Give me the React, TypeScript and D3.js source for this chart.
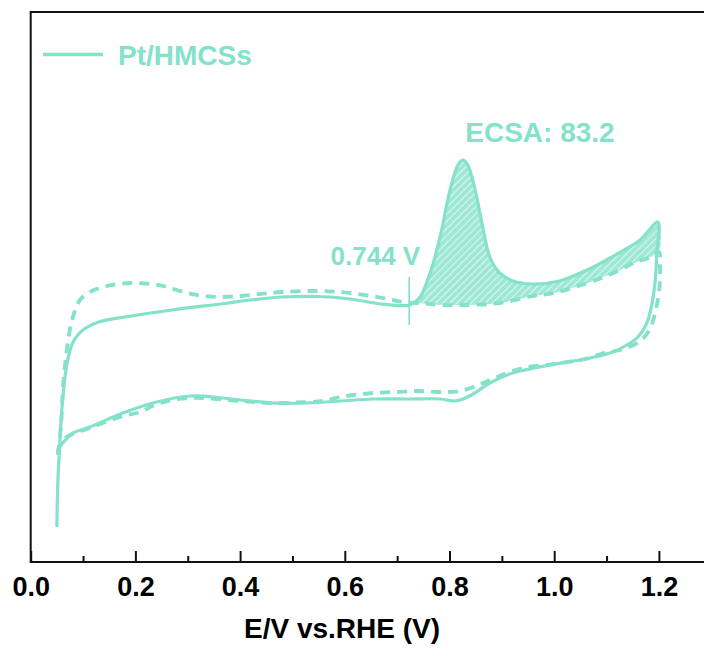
import React, { useEffect, useRef } from "react";
import * as d3 from "d3";

// potential (V vs RHE) and current (arb. units)
const solidAnodicE = [0.05, 0.052, 0.055, 0.058, 0.062, 0.066, 0.072, 0.08, 0.09, 0.105, 0.13, 0.18, 0.27, 0.37, 0.42, 0.48, 0.55, 0.61, 0.67, 0.72, 0.73, 0.744, 0.763, 0.782, 0.801, 0.816, 0.826, 0.835, 0.849, 0.862, 0.877, 0.896, 0.921, 0.96, 1.01, 1.063, 1.12, 1.164, 1.198];
const solidAnodicJ = [3.5, 8.2, 11.2, 14.2, 16.7, 18.7, 20.5, 21.9, 22.7, 23.4, 24.0, 24.5, 25.2, 25.85, 26.2, 26.5, 26.55, 26.3, 25.8, 25.65, 25.85, 26.5, 28.9, 32.5, 37.2, 39.7, 40.2, 39.7, 37.2, 33.9, 30.5, 28.9, 28.1, 27.8, 28.1, 29.2, 30.8, 32.2, 34.0];

const solidCathodicE = [1.196, 1.193, 1.187, 1.177, 1.16, 1.139, 1.112, 1.068, 0.998, 0.935, 0.91, 0.877, 0.845, 0.826, 0.81, 0.782, 0.719, 0.654, 0.591, 0.528, 0.463, 0.4, 0.367, 0.304, 0.241, 0.176, 0.113, 0.081, 0.066, 0.056, 0.052];
const solidCathodicJ = [30.9, 28.2, 25.9, 23.9, 22.5, 21.7, 21.0, 20.4, 19.75, 19.1, 18.7, 17.9, 16.8, 16.3, 16.1, 16.3, 16.3, 16.3, 16.1, 15.9, 15.9, 16.2, 16.4, 16.6, 16.0, 14.9, 13.5, 12.9, 12.2, 11.5, 10.9];

const dashAnodicE = [0.052, 0.058, 0.062, 0.069, 0.079, 0.094, 0.113, 0.146, 0.19, 0.228, 0.253, 0.285, 0.318, 0.356, 0.4, 0.438, 0.482, 0.547, 0.61, 0.673, 0.711, 0.75, 0.787, 0.833, 0.896, 0.96, 1.0, 1.04, 1.09, 1.126, 1.152, 1.179, 1.2];
const dashAnodicJ = [10.7, 13.7, 17.7, 21.2, 24.2, 26.2, 27.0, 27.6, 27.9, 27.8, 27.6, 27.1, 26.7, 26.5, 26.6, 26.8, 27.0, 27.1, 26.9, 26.4, 26.0, 25.85, 25.7, 25.7, 25.9, 26.6, 26.9, 27.5, 28.4, 29.2, 29.9, 30.4, 31.0];

const dashCathodicE = [1.202, 1.201, 1.194, 1.182, 1.162, 1.126, 1.094, 1.068, 1.0, 0.94, 0.89, 0.86, 0.82, 0.78, 0.738, 0.7, 0.654, 0.616, 0.591, 0.558, 0.528, 0.46, 0.4, 0.3, 0.241, 0.209, 0.176, 0.113, 0.069, 0.054, 0.051];
const dashCathodicJ = [29.7, 27.4, 25.2, 23.2, 22.0, 21.2, 20.9, 20.4, 19.8, 19.4, 18.5, 17.8, 17.1, 17.0, 17.1, 17.0, 16.9, 16.7, 16.5, 16.1, 16.0, 15.9, 16.1, 16.4, 15.8, 15.0, 14.6, 13.4, 12.5, 11.5, 10.6];

const markerE = 0.723;
const markerJ = [23.7, 28.5];

const xMajorTicks = [0, 0.2, 0.4, 0.6, 0.8, 1.0, 1.2];
const xMinorTicks = [0.1, 0.3, 0.5, 0.7, 0.9, 1.1];

const legendLabel = "Pt/HMCSs";
const areaLabel = "ECSA: 83.2";
const markerLabel = "0.744 V";
const xTitle = "E/V vs.RHE (V)";

const mint = "#84e1ca";
const font = "'Liberation Sans', Arial, sans-serif";

export default function App() {
    const svgRef = useRef<SVGSVGElement | null>(null);

    useEffect(() => {
        const width = 704;
        const height = 656;
        const svg = d3.select(svgRef.current);
        svg.selectAll("*").remove();

        const margin = { top: 12, left: 30.7, bottom: 562 };

        const x = d3.scaleLinear().domain([0, 1.3]).range([margin.left, margin.left + 1.3 * 523.5]);
        const y = d3.scaleLinear().domain([0, 55]).range([margin.bottom, margin.top]);

        const zip = (es: number[], js: number[]) => es.map((e, i) => [e, js[i]] as [number, number]);
        const solid = zip(solidAnodicE, solidAnodicJ).concat(zip(solidCathodicE, solidCathodicJ));
        const dashed = zip(dashAnodicE, dashAnodicJ).concat(zip(dashCathodicE, dashCathodicJ));

        const lineGen = d3.line<[number, number]>()
            .x((d) => x(d[0]))
            .y((d) => y(d[1]))
            .curve(d3.curveCatmullRom.alpha(0.5));

        // === hatch pattern + clip for the ECSA area ===
        const defs = svg.append("defs");
        const pattern = defs.append("pattern")
            .attr("id", "hatch")
            .attr("patternUnits", "userSpaceOnUse")
            .attr("width", 5)
            .attr("height", 5)
            .attr("patternTransform", "rotate(45)");
        pattern.append("rect").attr("width", 5).attr("height", 5).attr("fill", mint).attr("fill-opacity", 0.78);
        pattern.append("line")
            .attr("x1", 2.5).attr("y1", 0).attr("x2", 2.5).attr("y2", 5)
            .attr("stroke", "#ffffff").attr("stroke-width", 0.9).attr("stroke-opacity", 0.7);

        defs.append("clipPath").attr("id", "areaClip")
            .append("rect")
            .attr("x", x(markerE))
            .attr("y", 0)
            .attr("width", x(1.25) - x(markerE))
            .attr("height", height);

        const upper = zip(solidAnodicE, solidAnodicJ).filter((d) => d[0] >= 0.67);
        const lower = zip(dashAnodicE, dashAnodicJ).filter((d) => d[0] >= 0.67).reverse();
        svg.append("path")
            .attr("d", lineGen(upper.concat(lower)) + "Z")
            .attr("fill", "url(#hatch)")
            .attr("stroke", "none")
            .attr("clip-path", "url(#areaClip)");

        // === curves ===
        svg.append("path")
            .datum(dashed)
            .attr("fill", "none")
            .attr("stroke", mint)
            .attr("stroke-width", 3.8)
            .attr("stroke-dasharray", "10,7")
            .attr("d", lineGen);

        svg.append("path")
            .datum(solid)
            .attr("fill", "none")
            .attr("stroke", mint)
            .attr("stroke-width", 3.2)
            .attr("stroke-linejoin", "round")
            .attr("d", lineGen);

        // onset marker
        svg.append("line")
            .attr("x1", x(markerE)).attr("x2", x(markerE))
            .attr("y1", y(markerJ[0])).attr("y2", y(markerJ[1]))
            .attr("stroke", mint)
            .attr("stroke-width", 1.6);

        svg.append("text")
            .attr("x", x(markerE) + 11)
            .attr("y", 265)
            .attr("text-anchor", "end")
            .attr("font-family", font)
            .attr("font-weight", "bold")
            .attr("font-size", 26)
            .attr("fill", mint)
            .text(markerLabel);

        svg.append("text")
            .attr("x", 540)
            .attr("y", 142)
            .attr("text-anchor", "middle")
            .attr("font-family", font)
            .attr("font-weight", "bold")
            .attr("font-size", 28)
            .attr("fill", mint)
            .text(areaLabel);

        // === legend ===
        svg.append("line")
            .attr("x1", 43).attr("x2", 103)
            .attr("y1", 54.5).attr("y2", 54.5)
            .attr("stroke", mint)
            .attr("stroke-width", 3.5);
        svg.append("text")
            .attr("x", 118)
            .attr("y", 65)
            .attr("font-family", font)
            .attr("font-weight", "bold")
            .attr("font-size", 28)
            .attr("fill", mint)
            .text(legendLabel);

        // === axes ===
        const gx = svg.append("g")
            .attr("transform", `translate(0,${margin.bottom})`)
            .call(d3.axisBottom(x).tickValues(xMajorTicks).tickSizeInner(-11).tickSizeOuter(0).tickPadding(15).tickFormat(d3.format(".1f")));
        gx.select(".domain").remove();
        gx.selectAll(".tick line").attr("stroke", "#111").attr("stroke-width", 2);
        gx.selectAll("text")
            .attr("fill", "#000")
            .style("font-family", font)
            .style("font-weight", "bold")
            .style("font-size", "27px");

        const gm = svg.append("g")
            .attr("transform", `translate(0,${margin.bottom})`)
            .call(d3.axisBottom(x).tickValues(xMinorTicks).tickSizeInner(-6).tickSizeOuter(0).tickFormat(() => ""));
        gm.select(".domain").remove();
        gm.selectAll(".tick line").attr("stroke", "#111").attr("stroke-width", 2);

        // frame: left, top, bottom
        svg.append("path")
            .attr("d", `M${width},${margin.top}H${margin.left}V${margin.bottom}H${width}`)
            .attr("fill", "none")
            .attr("stroke", "#111")
            .attr("stroke-width", 2);

        svg.append("text")
            .attr("x", 342)
            .attr("y", 638)
            .attr("text-anchor", "middle")
            .attr("font-family", font)
            .attr("font-weight", "bold")
            .attr("font-size", 28)
            .attr("fill", "#000")
            .text(xTitle);
    }, []);

    return (
        <svg
            ref={svgRef}
            width={704}
            height={656}
            style={{ position: "absolute", left: 0, top: 0, background: "#fff" }}
        />
    );
}
